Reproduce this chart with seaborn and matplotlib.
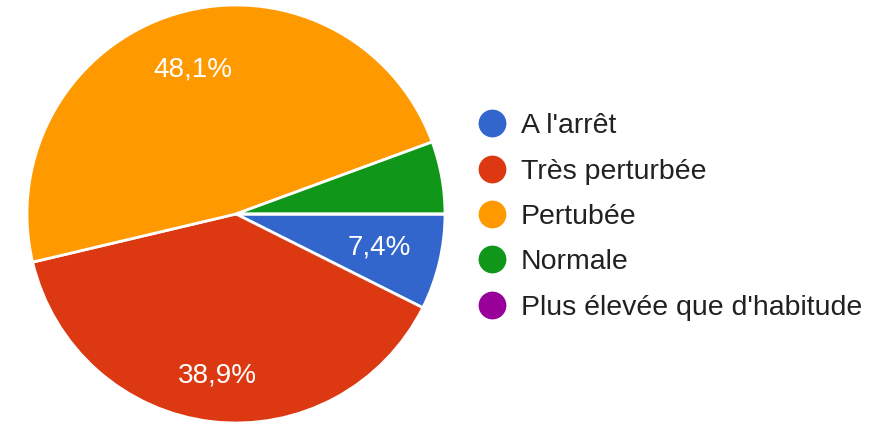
import matplotlib
matplotlib.use("Agg")
import matplotlib.pyplot as plt
import numpy as np
import seaborn as sns
from matplotlib.lines import Line2D

# Données du sondage
categories = ["A l'arrêt", "Très perturbée", "Pertubée", "Normale", "Plus élevée que d'habitude"]
percentages = [7.4, 38.9, 48.1, 5.6, 0.0]
colors = ["#3366cc", "#dc3912", "#ff9900", "#109618", "#990099"]
# distance (en rayon) des étiquettes de pourcentage, comme dans Google Forms
label_dist = [0.705, 0.78, 0.72, 0.72, 0.72]

sns.set_theme(style="white")
plt.rcParams["font.family"] = ["Liberation Sans", "DejaVu Sans"]

palette = sns.color_palette(colors)

fig = plt.figure(figsize=(8.76, 4.23), dpi=100)
ax = fig.add_axes([27 / 876, 0.0, 418 / 876, 418 / 423])


def pct_label(p):
    # Google Forms masque les petites parts
    return f"{p:.1f}%".replace(".", ",") if p >= 7 else ""


wedges, texts, autotexts = ax.pie(
    percentages,
    colors=palette,
    startangle=0,
    counterclock=False,
    autopct=pct_label,
    pctdistance=0.72,
    radius=1.0,
    wedgeprops=dict(edgecolor="white", linewidth=2),
    textprops=dict(color="white", fontsize=20),
)

# repositionner les étiquettes au milieu de chaque part
for w, t, d in zip(wedges, autotexts, label_dist):
    ang = np.deg2rad((w.theta1 + w.theta2) / 2)
    t.set_position((d * np.cos(ang), d * np.sin(ang)))

ax.set_aspect("equal")
ax.set_xlim(-1.0, 1.0)
ax.set_ylim(-1.0, 1.0)

handles = [
    Line2D([0], [0], marker="o", linestyle="", markersize=19,
           markerfacecolor=c, markeredgecolor=c)
    for c in palette
]
fig.legend(
    handles, categories,
    loc="center left",
    bbox_to_anchor=(464 / 876, 1 - 217 / 423),
    borderaxespad=0,
    frameon=False,
    fontsize=20.5,
    labelcolor="#212121",
    handletextpad=0.4,
    labelspacing=0.68,
    handlelength=1.2,
)

fig.savefig("out.png", dpi=100)
